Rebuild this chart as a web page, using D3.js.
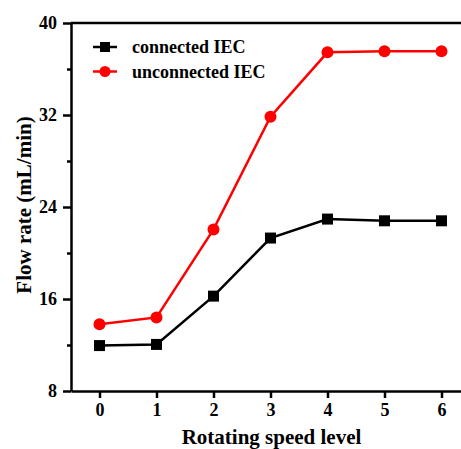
<!DOCTYPE html>
<html lang="en">
<head>
  <meta charset="UTF-8">
  <title>Flow rate vs rotating speed</title>
  <script src="https://d3js.org/d3.v7.min.js"></script>
  <style>
    body { margin: 0; background: #fff; }
    .axis path, .axis line { stroke: #000; stroke-width: 2.5; }
  </style>
</head>
<body>
  <svg width="461" height="449"></svg>

  <script>
    // data
    const levels = [0, 1, 2, 3, 4, 5, 6];
    const connected = [11.95, 12.05, 16.25, 21.3, 22.95, 22.8, 22.8];
    const unconnected = [13.8, 14.4, 22.05, 31.85, 37.45, 37.55, 37.55];
    const yTicks = [8, 16, 24, 32, 40];
    const yMinor = [12, 20, 28, 36];
    const seriesNames = ['connected IEC', 'unconnected IEC'];

    const FONT = "'Liberation Serif', 'Times New Roman', Times, serif";

    const svg = d3.select('svg');
    const plotL = 71, plotR = 470, plotT = 23, plotB = 391;

    const x = d3.scaleLinear().domain([-0.5, 6.5]).range([plotL, plotR]);
    const y = d3.scaleLinear().domain([8, 40]).range([plotB, plotT]);

    // frame (top and right edges run off the picture)
    svg.append('line')
      .attr('x1', plotL).attr('x2', plotR)
      .attr('y1', plotT).attr('y2', plotT)
      .attr('stroke', '#000').attr('stroke-width', 2.5);

    // minor y ticks
    svg.append('g')
      .attr('class', 'axis')
      .attr('transform', `translate(${plotL},0)`)
      .call(d3.axisLeft(y).tickValues(yMinor).tickSize(4).tickFormat(''))
      .select('.domain').remove();

    const yAxis = svg.append('g')
      .attr('class', 'axis')
      .attr('transform', `translate(${plotL},0)`)
      .call(d3.axisLeft(y).tickValues(yTicks).tickFormat(d3.format('d')).tickSize(8).tickSizeOuter(0).tickPadding(6));

    const xAxis = svg.append('g')
      .attr('class', 'axis')
      .attr('transform', `translate(0,${plotB})`)
      .call(d3.axisBottom(x).tickValues(levels).tickFormat(d3.format('d')).tickSize(7).tickSizeOuter(0).tickPadding(5));

    [yAxis, xAxis].forEach(a => {
      a.attr('font-family', FONT).attr('font-size', 18);
      a.selectAll('text')
        .attr('font-weight', 'bold')
        .attr('fill', '#000');
    });

    // axis titles
    svg.append('text')
      .attr('x', 271.5).attr('y', 444)
      .attr('text-anchor', 'middle')
      .attr('font-family', FONT)
      .attr('font-weight', 'bold')
      .attr('font-size', 21)
      .text('Rotating speed level');

    svg.append('text')
      .attr('transform', 'translate(31,205) rotate(-90)')
      .attr('text-anchor', 'middle')
      .attr('font-family', FONT)
      .attr('font-weight', 'bold')
      .attr('font-size', 21)
      .text('Flow rate (mL/min)');

    const line = d3.line()
      .x((d, i) => x(levels[i]))
      .y(d => y(d));

    // black series
    svg.append('path')
      .datum(connected)
      .attr('fill', 'none')
      .attr('stroke', '#000')
      .attr('stroke-width', 2.5)
      .attr('d', line);

    svg.selectAll('rect.pt')
      .data(connected)
      .enter().append('rect')
      .attr('class', 'pt')
      .attr('x', (d, i) => x(levels[i]) - 5.5)
      .attr('y', d => y(d) - 5.5)
      .attr('width', 11).attr('height', 11)
      .attr('fill', '#000');

    // red series
    svg.append('path')
      .datum(unconnected)
      .attr('fill', 'none')
      .attr('stroke', '#ff0000')
      .attr('stroke-width', 2.5)
      .attr('d', line);

    svg.selectAll('circle.pt')
      .data(unconnected)
      .enter().append('circle')
      .attr('class', 'pt')
      .attr('cx', (d, i) => x(levels[i]))
      .attr('cy', d => y(d))
      .attr('r', 6)
      .attr('fill', '#ff0000');

    // legend
    const leg = svg.append('g');
    seriesNames.forEach((name, i) => {
      const ly = 47 + i * 24.5;
      const col = i === 0 ? '#000' : '#ff0000';
      leg.append('line')
        .attr('x1', 93).attr('x2', 117)
        .attr('y1', ly).attr('y2', ly)
        .attr('stroke', col).attr('stroke-width', 2.5);
      if (i === 0) {
        leg.append('rect')
          .attr('x', 105 - 5).attr('y', ly - 5)
          .attr('width', 10).attr('height', 10)
          .attr('fill', col);
      } else {
        leg.append('circle')
          .attr('cx', 105).attr('cy', ly).attr('r', 5.5)
          .attr('fill', col);
      }
      leg.append('text')
        .attr('x', 132).attr('y', ly + 6)
        .attr('font-family', FONT)
        .attr('font-weight', 'bold')
        .attr('font-size', 18)
        .text(name);
    });
  </script>
</body>
</html>
